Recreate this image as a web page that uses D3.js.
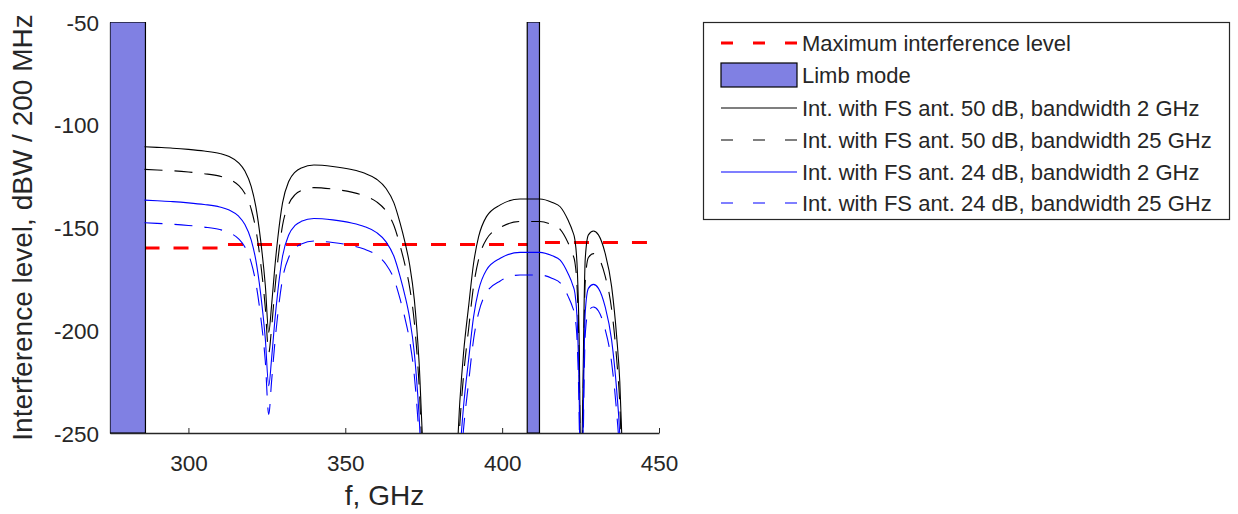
<!DOCTYPE html>
<html>
<head>
<meta charset="utf-8">
<script src="https://cdn.jsdelivr.net/npm/d3@7"></script>
<style>
  html, body { margin: 0; padding: 0; background: #ffffff; }
  svg { display: block; }
  text { font-family: "Liberation Sans", Arial, Helvetica, sans-serif; fill: #262626; }
</style>
</head>
<body>
<svg id="chart" width="1238" height="514"></svg>
<script>
// ---------------- data ----------------
const freq = [286, 290, 295, 300, 305, 310, 313, 316, 318, 320, 321.5, 323, 324.5, 325.6, 326.5, 327.5, 328.5, 330, 332, 334, 336, 340, 346, 352, 356, 360, 363, 365.5, 367.5, 369, 370.5, 372, 373.5, 375, 380, 385.5, 386.5, 387.7, 389.3, 390.9, 392.5, 395, 399.4, 405.7, 412, 416, 418.5, 421, 422.5, 423.2, 424, 424.5, 425.1, 425.7, 426.1, 426.5, 427.5, 429.1, 430.7, 432.8, 434.9, 436.5, 437.5, 438.3, 440];

const ant50bw2 = [-110.7, -111.0, -111.4, -112.0, -112.8, -114.0, -115.5, -118.5, -122.5, -130.0, -140.0, -156.0, -178.0, -201.0, -188.0, -170.0, -155.0, -138.0, -127.5, -123.0, -121.0, -119.6, -120.3, -121.8, -123.5, -126.5, -131.0, -138.0, -148.0, -157.0, -168.0, -185.0, -215.0, -262, -300, -262, -235, -211, -188.5, -167.4, -154.5, -144.7, -139.0, -136.1, -136.1, -137.8, -139.9, -146.4, -152.0, -156.0, -172, -200, -265, -235, -190, -165, -153.6, -151.7, -153.6, -162.4, -178.8, -203, -225, -258, -300];

const ant50bw25 = [-121.7, -122.0, -122.4, -123.0, -123.8, -125.0, -126.5, -129.5, -133.5, -141.0, -151.0, -167.0, -189.0, -211.0, -199.0, -181.0, -166.0, -149.0, -138.5, -134.0, -132.0, -130.6, -131.3, -132.8, -134.5, -137.5, -142.0, -149.0, -159.0, -168.0, -179.0, -196.0, -226.0, -273, -311, -273, -246, -222, -199.5, -178.4, -165.5, -155.7, -150.0, -147.1, -147.1, -148.8, -150.9, -157.4, -163.0, -167.0, -183, -211, -276, -246, -201, -176, -164.6, -162.7, -164.6, -173.4, -189.8, -214, -236, -269, -311];

const ant24bw2 = [-136.7, -137.0, -137.4, -138.0, -138.8, -140.0, -141.5, -144.5, -148.5, -156.0, -166.0, -182.0, -204.0, -227.0, -214.0, -196.0, -181.0, -164.0, -153.5, -149.0, -147.0, -145.6, -146.3, -147.8, -149.5, -152.5, -157.0, -164.0, -174.0, -183.0, -194.0, -211.0, -241.0, -288, -326, -288, -261, -237, -214.5, -193.4, -180.5, -170.7, -165.0, -162.1, -162.1, -163.8, -165.9, -172.4, -178.0, -182.0, -198, -226, -291, -261, -216, -191, -179.6, -177.7, -179.6, -188.4, -204.8, -229, -251, -284, -326];

const ant24bw25 = [-147.7, -148.0, -148.4, -149.0, -149.8, -151.0, -152.5, -155.5, -159.5, -167.0, -177.0, -193.0, -215.0, -241.0, -225.0, -207.0, -192.0, -175.0, -164.5, -160.0, -158.0, -156.6, -157.3, -158.8, -160.5, -163.5, -168.0, -175.0, -185.0, -194.0, -205.0, -222.0, -252.0, -299, -337, -299, -272, -248, -225.5, -204.4, -191.5, -181.7, -176.0, -173.1, -173.1, -174.8, -176.9, -183.4, -189.0, -193.0, -209, -237, -302, -272, -227, -202, -190.6, -188.7, -190.6, -199.4, -215.8, -240, -262, -295, -337];

// maximum interference level (step line)
const maxFreq = [286, 312.3, 312.3, 410, 410, 449];
const maxLevel = [-160, -160, -158.3, -158.3, -157.3, -157.3];

// limb mode bands [start, end] in GHz
const limbStart = [275, 408];
const limbEnd = [286.3, 411.9];

const xTicks = [300, 350, 400, 450];
const yTicks = [-250, -200, -150, -100, -50];

const legendLabels = [
  "Maximum interference level",
  "Limb mode",
  "Int. with FS ant. 50 dB, bandwidth 2 GHz",
  "Int. with FS ant. 50 dB, bandwidth 25 GHz",
  "Int. with FS ant. 24 dB, bandwidth 2 GHz",
  "Int. with FS ant. 24 dB, bandwidth 25 GHz"
];

// ---------------- drawing ----------------
(function () {
const svg = d3.select("#chart");
const pL = 110, pR = 659, pT = 22, pB = 433;
const x = d3.scaleLinear().domain([275, 450]).range([pL, pR]);
const y = d3.scaleLinear().domain([-250, -50]).range([pB, pT]);

svg.append("defs").append("clipPath").attr("id", "plotclip")
  .append("rect").attr("x", pL).attr("y", pT).attr("width", pR - pL).attr("height", pB - pT);

// axes
const axisColor = "#262626";
const xAxis = svg.append("g").attr("transform", `translate(0,${pB})`)
  .call(d3.axisBottom(x).tickValues(xTicks).tickFormat(d => String(d))
    .tickSizeInner(-5).tickSizeOuter(0).tickPadding(22));
const yAxis = svg.append("g").attr("transform", `translate(${pL},0)`)
  .call(d3.axisLeft(y).tickValues(yTicks).tickFormat(d => String(d))
    .tickSizeInner(-5).tickSizeOuter(0).tickPadding(11));
[xAxis, yAxis].forEach(g => {
  g.select(".domain").attr("stroke", axisColor).attr("stroke-width", 1.3);
  g.selectAll(".tick line").attr("stroke", axisColor).attr("stroke-width", 1);
  g.selectAll(".tick text").attr("fill", "#262626").style("font-size", "22.5px")
    .style("font-family", '"Liberation Sans", Arial, sans-serif');
});
xAxis.selectAll(".tick text").attr("dy", "0.71em");
yAxis.selectAll(".tick text").attr("dy", "0.36em");

const plot = svg.append("g").attr("clip-path", "url(#plotclip)");

// max interference level (drawn first, patches cover it)
const maxData = maxFreq.map((f, i) => [f, maxLevel[i]]);
plot.append("path")
  .attr("d", d3.line().x(d => x(d[0])).y(d => y(d[1]))(maxData))
  .attr("fill", "none").attr("stroke", "#ff0000").attr("stroke-width", 3)
  .attr("stroke-dasharray", "15,14");

// limb mode patches
const limbColor = "#8080e3";
plot.selectAll("rect.limb").data(limbStart.map((s, i) => [s, limbEnd[i]]))
  .enter().append("rect").attr("class", "limb")
  .attr("x", d => x(d[0])).attr("width", d => x(d[1]) - x(d[0]))
  .attr("y", y(-50)).attr("height", y(-250) - y(-50))
  .attr("fill", limbColor).attr("stroke", "#000").attr("stroke-width", 1.2);

// interference curves
const series = [
  { vals: ant50bw2, color: "#000000", dash: null },
  { vals: ant50bw25, color: "#000000", dash: "18,12" },
  { vals: ant24bw2, color: "#0000ff", dash: null },
  { vals: ant24bw25, color: "#0000ff", dash: "18,12" }
];
const line = d3.line().x(d => x(d[0])).y(d => y(d[1])).curve(d3.curveMonotoneX);
series.forEach(s => {
  const p = plot.append("path")
    .attr("d", line(freq.map((f, i) => [f, s.vals[i]])))
    .attr("fill", "none").attr("stroke", s.color).attr("stroke-width", 1.1);
  if (s.dash) p.attr("stroke-dasharray", s.dash);
});

// axis labels
svg.append("text").attr("x", (pL + pR) / 2).attr("y", 505)
  .attr("text-anchor", "middle").style("font-size", "28px").text("f, GHz");
svg.append("text").attr("transform", "translate(32,227.5) rotate(-90)")
  .attr("text-anchor", "middle").style("font-size", "28px")
  .text("Interference level, dBW / 200 MHz");

// legend
const lg = svg.append("g");
lg.append("rect").attr("x", 703.5).attr("y", 22.5).attr("width", 526).attr("height", 197)
  .attr("fill", "#fff").attr("stroke", axisColor).attr("stroke-width", 1.2);
const rowY = [43, 75, 108, 140, 172, 203];
const lx0 = 721, lx1 = 797, tx = 802;
const legendStyles = [
  { type: "line", color: "#ff0000", width: 3, dash: "12,20" },
  { type: "patch" },
  { type: "line", color: "#000000", width: 1.2, dash: null },
  { type: "line", color: "#000000", width: 1.2, dash: "12,20" },
  { type: "line", color: "#0000ff", width: 1.2, dash: null },
  { type: "line", color: "#0000ff", width: 1.2, dash: "12,20" }
];
legendLabels.forEach((lab, i) => {
  const st = legendStyles[i];
  if (st.type === "patch") {
    lg.append("rect").attr("x", lx0).attr("y", rowY[i] - 12).attr("width", lx1 - lx0).attr("height", 24)
      .attr("fill", limbColor).attr("stroke", "#000").attr("stroke-width", 1.2);
  } else {
    const l = lg.append("line").attr("x1", lx0).attr("x2", lx1).attr("y1", rowY[i]).attr("y2", rowY[i])
      .attr("stroke", st.color).attr("stroke-width", st.width);
    if (st.dash) l.attr("stroke-dasharray", st.dash);
  }
  lg.append("text").attr("x", tx).attr("y", rowY[i]).attr("dy", "0.36em")
    .style("font-size", "22px").text(lab);
});
})();
</script>
</body>
</html>
